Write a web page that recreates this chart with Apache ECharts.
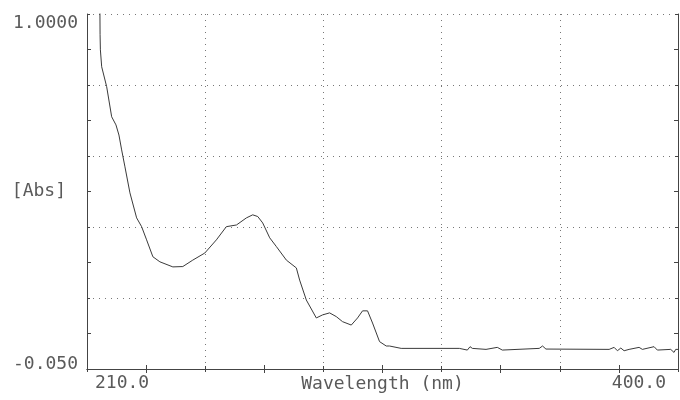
<!DOCTYPE html>
<html>
<head>
<meta charset="utf-8">
<script src="https://cdn.jsdelivr.net/npm/echarts@6/dist/echarts.min.js"></script>
<style>
html,body{margin:0;padding:0;background:#fff;}
#chart{width:680px;height:400px;}
</style>
</head>
<body>
<div id="chart"></div>
<script>
const wavelength = [214.1, 214.2, 214.3, 214.72, 216.32, 217.93, 219.31, 220.27, 221.14, 222.2, 223.8, 225.95, 227.56, 229.16, 231.18, 233.43, 237.6, 240.8, 244.0, 247.87, 251.6, 254.8, 258.05, 261.26, 263.28, 264.89, 266.49, 268.74, 270.89, 274.1, 277.3, 278.36, 280.51, 283.72, 285.74, 287.99, 290.14, 292.16, 294.96, 296.98, 298.59, 300.19, 301.8, 304.05, 306.2, 307.25, 311.0, 329.7, 330.26, 332.28, 333.15, 333.89, 338.28, 341.91, 343.52, 355.39, 356.45, 357.54, 377.86, 379.46, 380.52, 381.61, 382.67, 384.28, 387.49, 388.55, 392.3, 393.36, 397.66, 398.72, 399.26, 400.0];
const absorbance = [1.10, 0.94, 0.894, 0.844, 0.785, 0.696, 0.672, 0.642, 0.598, 0.548, 0.471, 0.397, 0.371, 0.332, 0.282, 0.267, 0.252, 0.253, 0.272, 0.293, 0.332, 0.371, 0.376, 0.397, 0.406, 0.401, 0.382, 0.338, 0.312, 0.272, 0.249, 0.213, 0.154, 0.101, 0.110, 0.116, 0.105, 0.090, 0.080, 0.101, 0.122, 0.122, 0.086, 0.031, 0.018, 0.018, 0.011, 0.011, 0.006, 0.006, 0.016, 0.011, 0.008, 0.014, 0.006, 0.011, 0.018, 0.009, 0.008, 0.014, 0.004, 0.012, 0.004, 0.008, 0.014, 0.008, 0.016, 0.006, 0.008, -0.001, 0.008, 0.008];
const xTickLabels = ['210.0', '400.0'];
const yTickLabels = ['-0.050', '1.0000'];
const xTitle = 'Wavelength (nm)';
const yTitle = '[Abs]';

const FONT = 'DejaVu Sans Mono';
const TXT = '#5a5a5a';
const AX = '#444';

const chart = echarts.init(document.getElementById('chart'), null, {renderer: 'canvas'});
const helperX = (pos, labels) => ({
  type: 'value', min: 0, max: 5, interval: 1, position: pos,
  axisLine: {show: true, lineStyle: {color: AX, width: 1}},
  axisTick: {show: true, inside: true, length: 3, lineStyle: {color: AX}},
  minorTick: {show: true, splitNumber: 2, length: 4, lineStyle: {color: AX}},
  splitLine: {show: pos === 'bottom', lineStyle: {color: '#777', type: [1, 5], width: 1}},
  axisLabel: labels ? {
    show: true, margin: 5, color: TXT, fontFamily: FONT, fontSize: 18,
    alignMinLabel: 'left', alignMaxLabel: 'right', padding: [0, 12, 0, 8],
    formatter: v => v === 0 ? xTickLabels[0] : (v === 5 ? xTickLabels[1] : '')
  } : {show: false},
  name: labels ? xTitle : '', nameLocation: 'middle', nameGap: 6, nameMoveOverlap: false,
  nameTextStyle: {color: TXT, fontFamily: FONT, fontSize: 18}
});
const helperY = (pos, labels) => ({
  type: 'value', min: 0, max: 5, interval: 1, position: pos,
  axisLine: {show: true, lineStyle: {color: AX, width: 1}},
  axisTick: {show: true, inside: true, length: 3, lineStyle: {color: AX}},
  minorTick: {show: true, splitNumber: 2, length: 4, lineStyle: {color: AX}},
  splitLine: {show: pos === 'left', lineStyle: {color: '#777', type: [1, 5], width: 1}},
  axisLabel: labels ? {
    show: true, margin: 9, color: TXT, fontFamily: FONT, fontSize: 18,
    verticalAlignMinLabel: 'middle', verticalAlignMaxLabel: 'top',
    formatter: v => v === 0 ? '{lo|' + yTickLabels[0] + '}' : (v === 5 ? yTickLabels[1] : ''),
    rich: {lo: {color: TXT, fontFamily: FONT, fontSize: 18, padding: [0, 0, 9, 0]}}
  } : {show: false},
  name: labels ? yTitle : '', nameLocation: 'middle', nameRotate: 0, nameGap: 21, nameMoveOverlap: false,
  nameTextStyle: {color: TXT, fontFamily: FONT, fontSize: 18, align: 'right'}
});

chart.setOption({
  backgroundColor: '#fff',
  animation: false,
  grid: {left: 87, right: 2, top: 14, bottom: 31, containLabel: false, outerBoundsMode: 'none'},
  xAxis: [
    {type: 'value', min: 210, max: 400, show: false},
    helperX('bottom', true),
    helperX('top', false)
  ],
  yAxis: [
    {type: 'value', min: -0.05, max: 1.0, show: false},
    helperY('left', true),
    helperY('right', false)
  ],
  series: [{
    type: 'line', xAxisIndex: 0, yAxisIndex: 0,
    data: wavelength.map((w, i) => [w, absorbance[i]]),
    showSymbol: false, symbol: 'none', clip: true,
    lineStyle: {color: '#3a3a3a', width: 1}
  }]
});
</script>
</body>
</html>
